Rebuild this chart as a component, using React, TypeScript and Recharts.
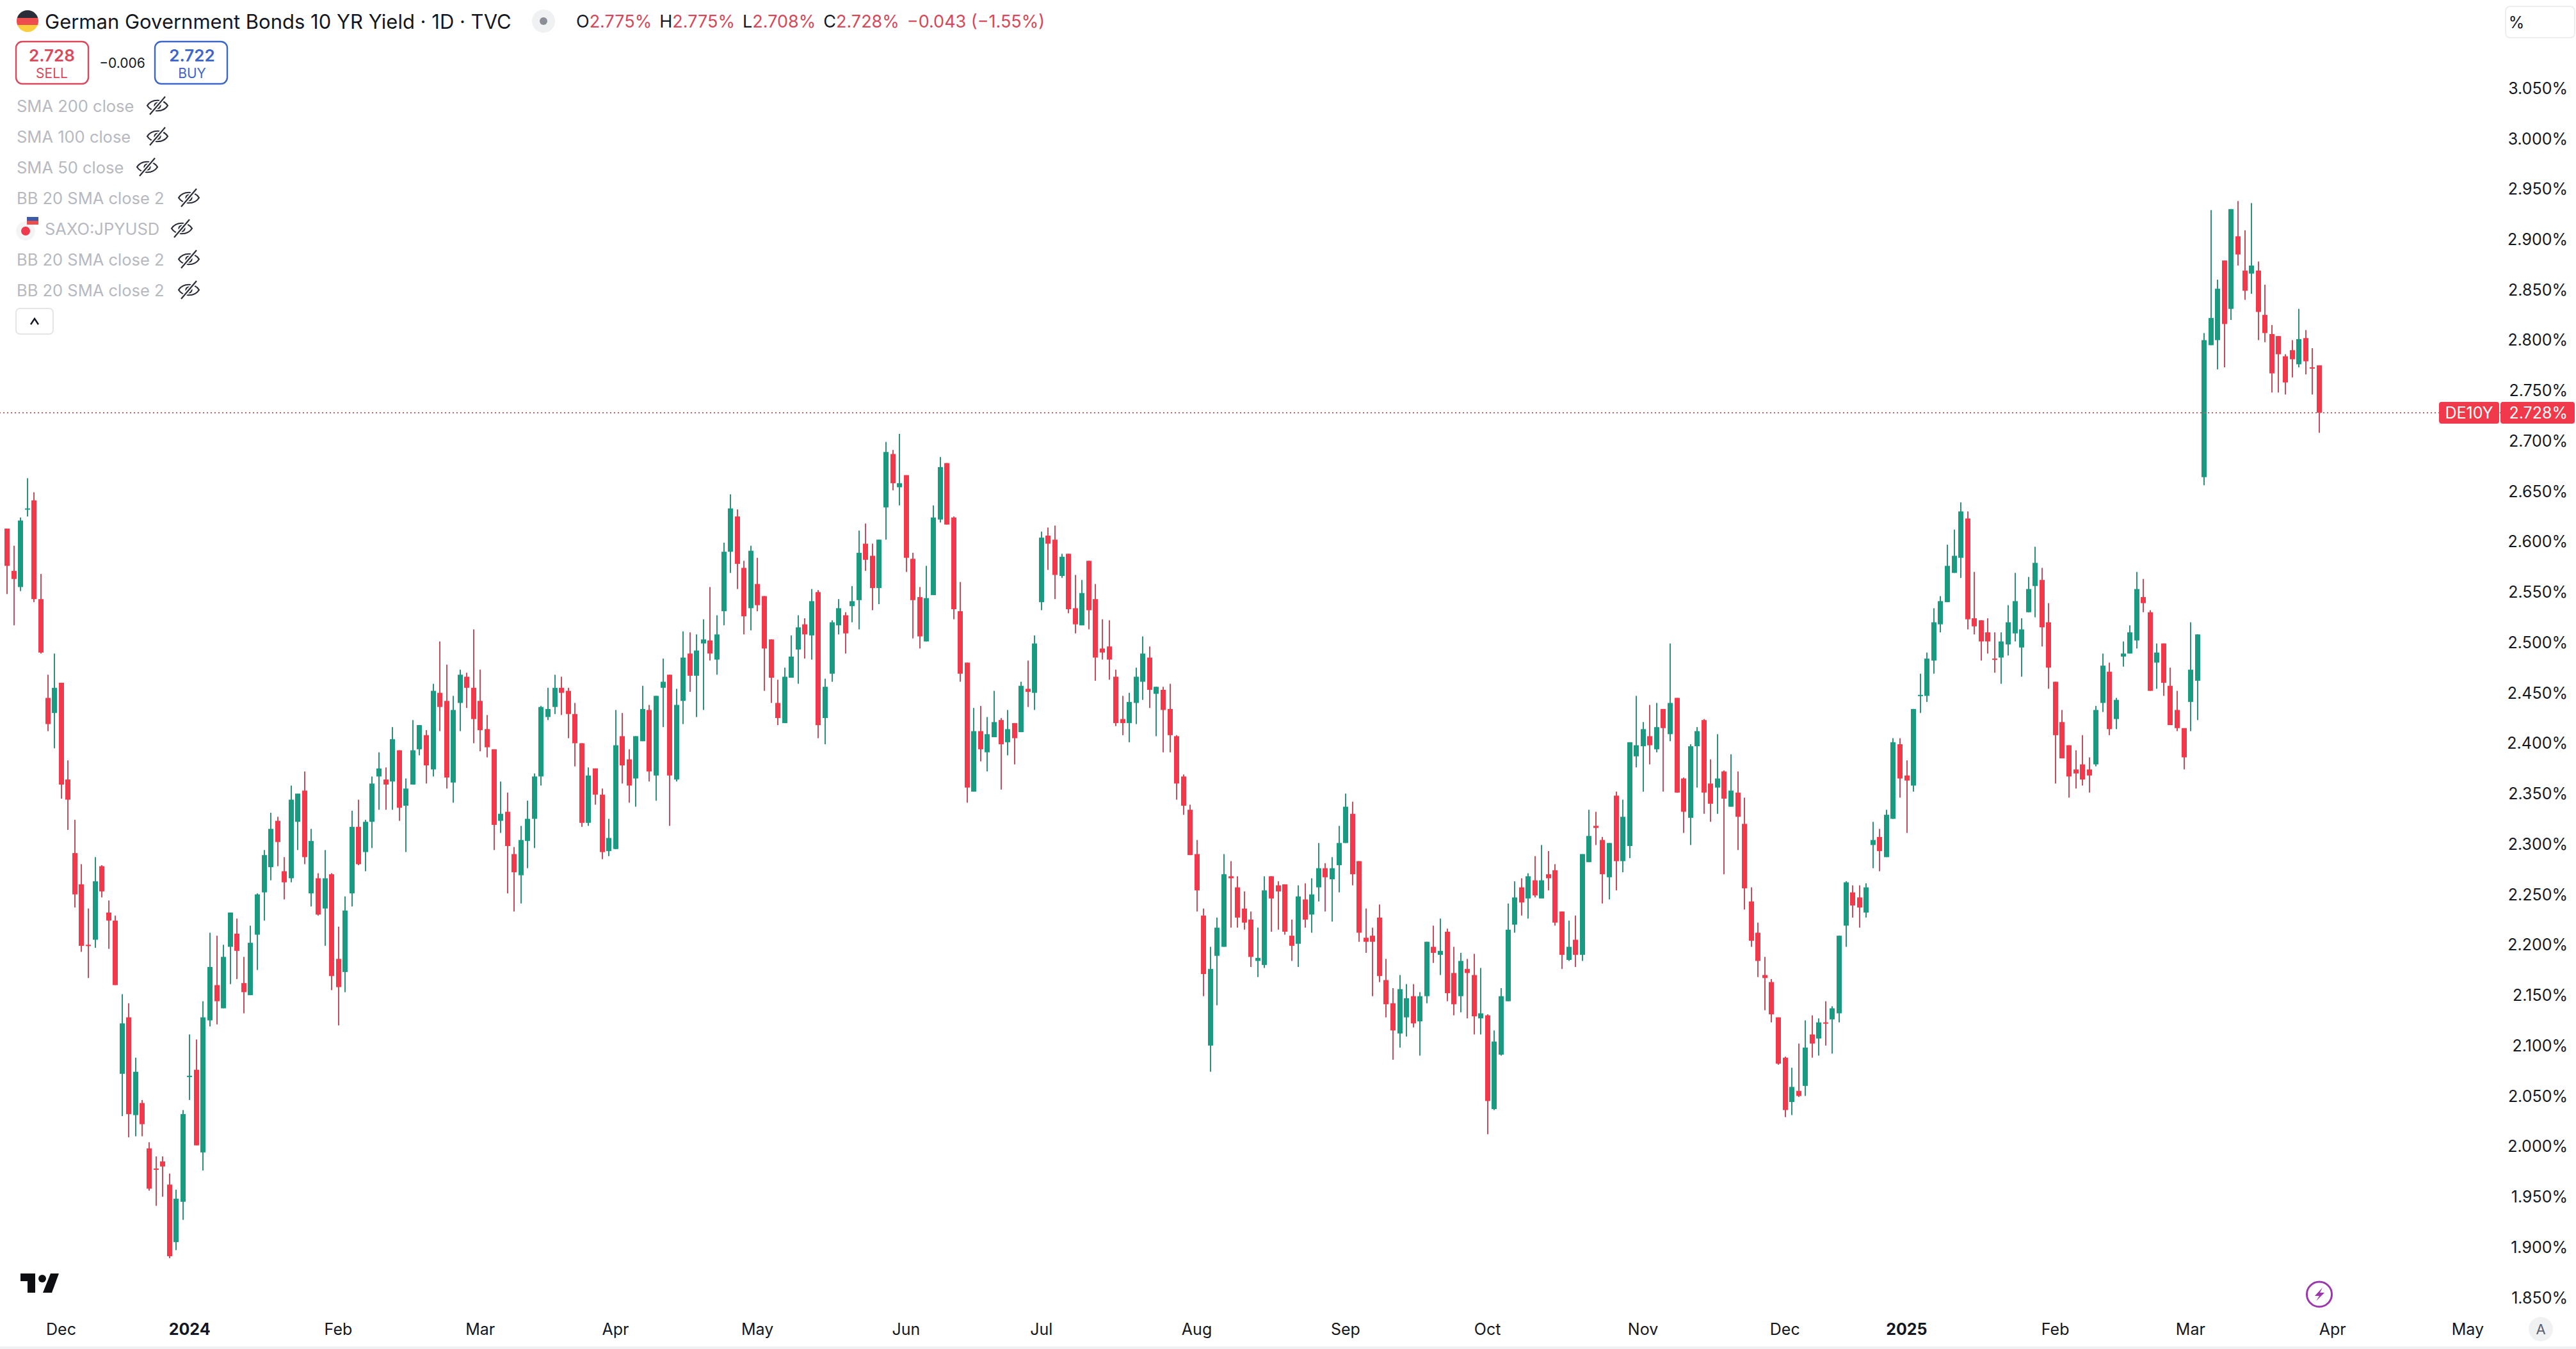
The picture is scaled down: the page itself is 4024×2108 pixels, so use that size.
import { Bar, ComposedChart, ReferenceLine, XAxis, YAxis } from 'recharts';

const highs = [
  2.613,2.596,2.624,2.663,2.649,2.568,2.468,2.489,2.460,2.383,
  2.324,2.280,2.236,2.287,2.279,2.244,2.229,2.151,2.142,2.088,
  2.046,2.004,1.990,1.990,1.973,1.957,2.036,2.111,2.106,2.144,
  2.212,2.209,2.200,2.232,2.226,2.188,2.219,2.251,2.294,2.331,
  2.327,2.287,2.358,2.350,2.372,2.315,2.271,2.294,2.271,2.218,
  2.248,2.333,2.344,2.324,2.367,2.391,2.376,2.416,2.393,2.365,
  2.423,2.418,2.413,2.459,2.501,2.478,2.447,2.473,2.470,2.513,
  2.473,2.428,2.394,2.362,2.351,2.297,2.318,2.343,2.370,2.437,
  2.455,2.468,2.466,2.455,2.440,2.400,2.376,2.375,2.355,2.325,
  2.433,2.430,2.394,2.407,2.457,2.438,2.447,2.484,2.468,2.454,
  2.511,2.510,2.508,2.523,2.555,2.527,2.599,2.647,2.632,2.581,
  2.596,2.584,2.546,2.503,2.463,2.475,2.507,2.527,2.524,2.553,
  2.552,2.464,2.522,2.543,2.530,2.556,2.611,2.618,2.598,2.602,
  2.699,2.691,2.707,2.666,2.589,2.555,2.576,2.636,2.684,2.678,
  2.625,2.560,2.480,2.435,2.437,2.426,2.452,2.425,2.433,2.420,
  2.461,2.482,2.507,2.610,2.614,2.616,2.588,2.588,2.567,2.562,
  2.581,2.558,2.523,2.522,2.473,2.447,2.450,2.475,2.506,2.496,
  2.456,2.456,2.459,2.408,2.369,2.339,2.304,2.236,2.198,2.227,
  2.290,2.283,2.268,2.253,2.233,2.217,2.268,2.268,2.263,2.260,
  2.225,2.259,2.261,2.266,2.301,2.281,2.287,2.318,2.350,2.342,
  2.283,2.236,2.217,2.240,2.186,2.157,2.170,2.161,2.161,2.153,
  2.203,2.219,2.226,2.216,2.198,2.192,2.186,2.191,2.177,2.131,
  2.115,2.157,2.241,2.263,2.266,2.271,2.288,2.299,2.293,2.280,
  2.233,2.224,2.229,2.290,2.334,2.332,2.307,2.301,2.352,2.344,
  2.401,2.447,2.421,2.438,2.440,2.434,2.499,2.445,2.366,2.399,
  2.416,2.424,2.384,2.409,2.373,2.389,2.372,2.346,2.257,2.222,
  2.188,2.166,2.128,2.089,2.078,2.102,2.125,2.130,2.127,2.144,
  2.139,2.209,2.263,2.259,2.259,2.261,2.322,2.315,2.334,2.405,
  2.405,2.383,2.434,2.469,2.490,2.534,2.546,2.597,2.612,2.639,
  2.630,2.570,2.522,2.524,2.510,2.510,2.537,2.569,2.524,2.565,
  2.595,2.574,2.539,2.461,2.433,2.398,2.393,2.408,2.386,2.437,
  2.489,2.480,2.445,2.501,2.517,2.570,2.563,2.532,2.499,2.499,
  2.475,2.452,2.415,2.520,2.508,2.807,2.929,2.860,2.879,2.930,
  2.938,2.909,2.936,2.878,2.855,2.815,2.804,2.786,2.800,2.831,
  2.810,2.792,2.775,
];

const lows = [
  2.548,2.517,2.551,2.625,2.540,2.489,2.412,2.395,2.345,2.314,
  2.237,2.193,2.167,2.197,2.247,2.196,2.160,2.030,2.009,2.010,
  2.010,1.956,1.941,1.950,1.889,1.897,1.927,2.046,2.001,1.976,
  2.119,2.121,2.137,2.161,2.166,2.132,2.150,2.175,2.224,2.264,
  2.278,2.245,2.262,2.294,2.280,2.238,2.229,2.199,2.155,2.120,
  2.153,2.238,2.279,2.273,2.296,2.334,2.334,2.334,2.323,2.292,
  2.359,2.388,2.360,2.367,2.412,2.355,2.341,2.412,2.435,2.400,
  2.392,2.386,2.294,2.311,2.251,2.233,2.241,2.276,2.296,2.358,
  2.423,2.429,2.428,2.405,2.377,2.317,2.318,2.339,2.285,2.288,
  2.295,2.360,2.341,2.337,2.402,2.362,2.343,2.416,2.318,2.362,
  2.419,2.451,2.426,2.433,2.482,2.468,2.517,2.569,2.553,2.508,
  2.512,2.531,2.452,2.440,2.418,2.420,2.465,2.459,2.484,2.483,
  2.405,2.399,2.461,2.508,2.489,2.520,2.513,2.571,2.532,2.538,
  2.602,2.651,2.636,2.570,2.504,2.494,2.501,2.547,2.619,2.617,
  2.523,2.461,2.341,2.352,2.382,2.372,2.406,2.354,2.388,2.379,
  2.411,2.436,2.433,2.532,2.572,2.543,2.564,2.529,2.509,2.517,
  2.513,2.462,2.483,2.463,2.417,2.408,2.401,2.419,2.443,2.435,
  2.407,2.391,2.391,2.344,2.329,2.289,2.233,2.149,2.074,2.140,
  2.198,2.217,2.217,2.215,2.178,2.168,2.177,2.213,2.215,2.210,
  2.184,2.178,2.217,2.212,2.243,2.233,2.223,2.252,2.301,2.259,
  2.203,2.192,2.149,2.163,2.128,2.086,2.098,2.109,2.118,2.090,
  2.142,2.182,2.170,2.144,2.130,2.133,2.127,2.111,2.111,2.012,
  2.036,2.090,2.144,2.212,2.229,2.226,2.247,2.246,2.254,2.219,
  2.176,2.184,2.178,2.184,2.282,2.299,2.241,2.245,2.254,2.272,
  2.286,2.376,2.352,2.379,2.391,2.352,2.402,2.351,2.311,2.299,
  2.356,2.330,2.322,2.330,2.270,2.337,2.294,2.235,2.198,2.168,
  2.135,2.123,2.081,2.029,2.031,2.049,2.050,2.088,2.090,2.100,
  2.092,2.123,2.198,2.227,2.217,2.227,2.276,2.273,2.287,2.325,
  2.346,2.311,2.352,2.430,2.441,2.469,2.510,2.540,2.569,2.564,
  2.513,2.508,2.482,2.489,2.470,2.459,2.487,2.501,2.466,2.530,
  2.525,2.496,2.454,2.360,2.385,2.346,2.355,2.358,2.351,2.377,
  2.431,2.408,2.414,2.476,2.489,2.494,2.530,2.452,2.454,2.447,
  2.418,2.412,2.374,2.412,2.423,2.656,2.795,2.771,2.773,2.820,
  2.874,2.840,2.846,2.800,2.798,2.748,2.748,2.746,2.763,2.773,
  2.766,2.746,2.708,
];

const opens = [
  2.613,2.571,2.555,2.632,2.641,2.543,2.445,2.430,2.460,2.364,
  2.291,2.260,2.200,2.205,2.278,2.232,2.224,2.072,2.128,2.031,
  2.043,1.998,1.978,1.985,1.962,1.905,1.945,2.069,2.076,1.994,
  2.125,2.160,2.137,2.198,2.211,2.162,2.150,2.210,2.252,2.277,
  2.323,2.273,2.266,2.322,2.353,2.251,2.266,2.236,2.270,2.186,
  2.173,2.251,2.317,2.292,2.322,2.367,2.364,2.362,2.393,2.338,
  2.359,2.394,2.408,2.374,2.450,2.442,2.361,2.440,2.466,2.455,
  2.442,2.414,2.394,2.323,2.332,2.290,2.269,2.303,2.325,2.367,
  2.426,2.436,2.455,2.452,2.429,2.400,2.321,2.375,2.349,2.293,
  2.295,2.407,2.384,2.365,2.402,2.433,2.368,2.455,2.468,2.364,
  2.442,2.489,2.467,2.499,2.502,2.483,2.531,2.590,2.625,2.574,
  2.534,2.558,2.546,2.503,2.440,2.420,2.465,2.493,2.518,2.507,
  2.550,2.425,2.469,2.517,2.527,2.536,2.542,2.598,2.586,2.554,
  2.634,2.687,2.654,2.666,2.583,2.545,2.501,2.547,2.622,2.678,
  2.624,2.531,2.480,2.352,2.412,2.391,2.406,2.423,2.401,2.420,
  2.411,2.454,2.450,2.540,2.606,2.602,2.566,2.588,2.534,2.517,
  2.581,2.543,2.494,2.496,2.466,2.424,2.420,2.440,2.461,2.485,
  2.449,2.453,2.434,2.407,2.367,2.334,2.290,2.229,2.100,2.189,
  2.198,2.268,2.257,2.236,2.225,2.184,2.180,2.268,2.259,2.260,
  2.209,2.201,2.245,2.230,2.257,2.276,2.265,2.279,2.301,2.330,
  2.283,2.207,2.209,2.227,2.165,2.142,2.112,2.128,2.149,2.124,
  2.149,2.198,2.190,2.213,2.172,2.149,2.176,2.170,2.127,2.130,
  2.037,2.091,2.144,2.220,2.257,2.246,2.264,2.246,2.270,2.274,
  2.233,2.185,2.205,2.190,2.282,2.318,2.304,2.267,2.348,2.283,
  2.298,2.387,2.397,2.407,2.394,2.434,2.409,2.445,2.365,2.326,
  2.397,2.423,2.360,2.356,2.372,2.337,2.351,2.320,2.243,2.212,
  2.170,2.163,2.128,2.088,2.044,2.055,2.060,2.111,2.107,2.123,
  2.126,2.132,2.219,2.252,2.247,2.232,2.299,2.307,2.287,2.325,
  2.399,2.368,2.358,2.447,2.447,2.482,2.518,2.540,2.569,2.584,
  2.623,2.524,2.522,2.510,2.484,2.485,2.498,2.509,2.495,2.530,
  2.556,2.562,2.520,2.461,2.421,2.398,2.374,2.379,2.374,2.379,
  2.440,2.471,2.424,2.486,2.489,2.502,2.545,2.530,2.480,2.499,
  2.457,2.433,2.415,2.441,2.462,2.664,2.795,2.800,2.879,2.831,
  2.903,2.869,2.866,2.869,2.825,2.806,2.804,2.784,2.790,2.776,
  2.802,2.773,2.775,
];

const closes = [
  2.576,2.563,2.621,2.633,2.543,2.490,2.419,2.455,2.359,2.344,
  2.250,2.199,2.199,2.263,2.253,2.224,2.160,2.122,2.032,2.074,
  2.022,1.958,1.977,1.980,1.891,1.948,2.032,2.070,2.001,2.128,
  2.178,2.144,2.188,2.232,2.194,2.153,2.202,2.250,2.289,2.315,
  2.302,2.262,2.344,2.350,2.287,2.303,2.230,2.266,2.169,2.158,
  2.234,2.317,2.280,2.322,2.360,2.375,2.359,2.404,2.336,2.355,
  2.393,2.418,2.378,2.452,2.436,2.366,2.433,2.468,2.455,2.424,
  2.413,2.396,2.319,2.330,2.298,2.272,2.304,2.325,2.367,2.436,
  2.434,2.455,2.450,2.429,2.400,2.321,2.368,2.349,2.292,2.306,
  2.398,2.378,2.358,2.407,2.434,2.372,2.447,2.461,2.368,2.438,
  2.485,2.467,2.492,2.503,2.489,2.508,2.590,2.633,2.578,2.526,
  2.591,2.537,2.494,2.465,2.425,2.466,2.486,2.515,2.508,2.541,
  2.418,2.456,2.520,2.534,2.509,2.541,2.589,2.582,2.554,2.602,
  2.689,2.658,2.658,2.584,2.542,2.506,2.544,2.624,2.674,2.617,
  2.533,2.469,2.356,2.412,2.394,2.409,2.421,2.399,2.414,2.405,
  2.457,2.451,2.499,2.604,2.598,2.567,2.585,2.533,2.518,2.549,
  2.532,2.485,2.490,2.483,2.420,2.420,2.441,2.466,2.489,2.453,
  2.456,2.433,2.408,2.360,2.338,2.289,2.254,2.171,2.176,2.217,
  2.270,2.266,2.227,2.222,2.188,2.187,2.254,2.246,2.253,2.213,
  2.199,2.248,2.225,2.250,2.276,2.267,2.276,2.301,2.337,2.270,
  2.212,2.203,2.203,2.169,2.141,2.115,2.156,2.147,2.122,2.149,
  2.203,2.192,2.194,2.152,2.141,2.184,2.172,2.129,2.132,2.045,
  2.104,2.149,2.215,2.247,2.242,2.268,2.249,2.264,2.266,2.222,
  2.190,2.198,2.190,2.290,2.308,2.316,2.270,2.301,2.283,2.327,
  2.401,2.398,2.414,2.398,2.416,2.415,2.440,2.351,2.332,2.397,
  2.412,2.351,2.340,2.365,2.345,2.353,2.327,2.256,2.204,2.184,
  2.167,2.131,2.082,2.036,2.059,2.050,2.098,2.102,2.123,2.122,
  2.137,2.209,2.262,2.239,2.237,2.257,2.304,2.293,2.329,2.401,
  2.365,2.363,2.434,2.448,2.484,2.520,2.541,2.576,2.586,2.630,
  2.523,2.516,2.501,2.501,2.483,2.501,2.520,2.541,2.513,2.553,
  2.579,2.515,2.475,2.408,2.385,2.367,2.370,2.364,2.368,2.433,
  2.477,2.414,2.443,2.489,2.510,2.553,2.539,2.452,2.490,2.460,
  2.418,2.415,2.386,2.473,2.508,2.800,2.822,2.851,2.816,2.930,
  2.885,2.849,2.874,2.828,2.807,2.767,2.786,2.758,2.781,2.801,
  2.779,2.772,2.728,
];

const priceTicks = [
  1.85,1.9,1.95,2,2.05,2.1,2.15,2.2,2.25,2.3,2.35,2.4,2.45,
  2.5,2.55,2.6,2.65,2.7,2.75,2.8,2.85,2.9,2.95,3,3.05,
];
const dateTickSlots = [8,27,49,70,90,111,133,153,176,198,219,242,263,281,303,323,344,364];
const dateTickLabels = ['Dec','2024','Feb','Mar','Apr','May','Jun','Jul','Aug','Sep','Oct','Nov','Dec','2025','Feb','Mar','Apr','May'];
const lastPrice = 2.728;

const indicatorRows = [
  { label: 'SMA 200 close', eyeX: 246 },
  { label: 'SMA 100 close', eyeX: 246 },
  { label: 'SMA 50 close', eyeX: 230 },
  { label: 'BB 20 SMA close 2', eyeX: 295 },
  { label: 'SAXO:JPYUSD', eyeX: 284 },
  { label: 'BB 20 SMA close 2', eyeX: 295 },
  { label: 'BB 20 SMA close 2', eyeX: 295 },
];

const ohlcParts = [
  { k: 'O', v: '2.775%' },
  { k: 'H', v: '2.775%' },
  { k: 'L', v: '2.708%' },
  { k: 'C', v: '2.728%' },
];

const SLOT_COUNT = 370;
const rows = Array.from({ length: SLOT_COUNT }, (_, i) =>
  i < highs.length
    ? { slot: i, range: [lows[i], highs[i]], open: opens[i], close: closes[i], high: highs[i], low: lows[i] }
    : { slot: i },
);

const GREEN = '#1b9a82';
const RED = '#f0394a';
const FONT = 'Inter, "Noto Sans", sans-serif';
const INK = '#131722';

const Candle = (props: any) => {
  const { x, y, width, height, payload } = props;
  if (payload.high === undefined) return null;
  const up = payload.close >= payload.open;
  const perUnit = height / (payload.high - payload.low);
  const top = y + (payload.high - Math.max(payload.open, payload.close)) * perUnit;
  const bottom = y + (payload.high - Math.min(payload.open, payload.close)) * perUnit;
  const cx = Math.round(x + width / 2);
  return (
    <g>
      <rect x={cx - 1} y={y} width={2} height={height} fill={up ? '#2f907f' : '#c5505d'} />
      <rect x={cx - 4} y={top} width={8} height={Math.max(bottom - top, 2)} fill={up ? GREEN : RED} />
    </g>
  );
};

const PriceTick = (props: any) => (
  <text x={4011} y={props.y} textAnchor="end" dominantBaseline="central" fontFamily={FONT} fontSize={25} fill={INK}>
    {props.payload.value.toFixed(3)}%
  </text>
);

const DateTick = (props: any) => {
  const label = dateTickLabels[dateTickSlots.indexOf(props.payload.value)];
  const isYear = label.length === 4;
  return (
    <text x={props.x} y={2077} textAnchor="middle" dominantBaseline="central" fontFamily={FONT} fontSize={25} fontWeight={isYear ? 700 : 400} fill={INK}>
      {label}
    </text>
  );
};

const LastPriceLabel = (props: any) => {
  const y = props.viewBox.y;
  return (
    <g fontFamily={FONT} fontSize={25} fill="#fff">
      <rect x={3810} y={y - 17} width={94} height={34} rx={4} fill={RED} />
      <rect x={3906} y={y - 17} width={116} height={34} rx={4} fill={RED} />
      <text x={3857} y={y} textAnchor="middle" dominantBaseline="central">DE10Y</text>
      <text x={4011} y={y} textAnchor="end" dominantBaseline="central">{lastPrice.toFixed(3)}%</text>
    </g>
  );
};

const Txt = ({ x, y, size = 26, color = INK, weight = 400, anchor = 'start', children }: any) => (
  <text x={x} y={y} fontFamily={FONT} fontSize={size} fill={color} fontWeight={weight} textAnchor={anchor} dominantBaseline="central">
    {children}
  </text>
);

const EyeOff = ({ x, y }: { x: number; y: number }) => (
  <g transform={`translate(${x} ${y})`} fill="none" stroke="#2a2e39" strokeWidth={2.2}>
    <path d="M-16 0 C-9 -11 9 -11 16 0 C9 11 -9 11 -16 0 Z" />
    <circle r={4.5} />
    <path d="M-12 14 L12 -14" stroke="#fff" strokeWidth={6} />
    <path d="M-12 14 L12 -14" />
  </g>
);

const Overlay = () => (
  <svg width={4024} height={2108} style={{ position: 'absolute', left: 0, top: 0, pointerEvents: 'none' }}>
    <defs>
      <clipPath id="deFlag"><circle cx={43} cy={33} r={17} /></clipPath>
      <clipPath id="jpFlag"><circle cx={40} cy={361} r={15} /></clipPath>
    </defs>
    <g clipPath="url(#deFlag)">
      <rect x={26} y={16} width={34} height={12} fill="#2a2e39" />
      <rect x={26} y={28} width={34} height={11} fill="#ee4d4d" />
      <rect x={26} y={39} width={34} height={11} fill="#f9cd3c" />
    </g>
    <Txt x={70} y={33} size={31}>German Government Bonds 10 YR Yield · 1D · TVC</Txt>
    <circle cx={849} cy={33} r={18} fill="#f0f1f3" />
    <circle cx={849} cy={33} r={6} fill="#8a8e97" />

    <text x={900} y={33} fontFamily={FONT} fontSize={27} dominantBaseline="central">
      {ohlcParts.map((p) => (
        <tspan key={p.k} dx={p.k === 'O' ? 0 : 12}>
          <tspan fill={INK}>{p.k}</tspan>
          <tspan fill="#d4485a">{p.v}</tspan>
        </tspan>
      ))}
      <tspan dx={12} fill="#d4485a">−0.043 (−1.55%)</tspan>
    </text>

    <rect x={25} y={65} width={113} height={66} rx={10} fill="#fff" stroke="#d84a5b" strokeWidth={2.4} />
    <Txt x={81} y={86} size={26} color="#d84a5b" weight={600} anchor="middle">2.728</Txt>
    <Txt x={81} y={114} size={21} color="#d84a5b" anchor="middle">SELL</Txt>
    <Txt x={191} y={98} size={21} anchor="middle">−0.006</Txt>
    <rect x={242} y={65} width={113} height={66} rx={10} fill="#fff" stroke="#3d66c8" strokeWidth={2.4} />
    <Txt x={300} y={86} size={26} color="#3d66c8" weight={600} anchor="middle">2.722</Txt>
    <Txt x={300} y={114} size={21} color="#3d66c8" anchor="middle">BUY</Txt>

    {indicatorRows.map((row, i) => (
      <g key={i}>
        <Txt x={row.label.startsWith('SAXO') ? 70 : 26} y={165 + i * 48} size={25.5} color="#b6b9c0">{row.label}</Txt>
        <EyeOff x={row.eyeX} y={165 + i * 48} />
      </g>
    ))}
    <g clipPath="url(#jpFlag)">
      <rect x={25} y={346} width={30} height={30} fill="#f4f4f6" />
      <circle cx={40} cy={361} r={7} fill="#ee3a4c" />
    </g>
    <rect x={42} y={339} width={18} height={6} fill="#3c5aa8" />
    <rect x={42} y={345} width={18} height={6} fill="#ee4d4d" />

    <rect x={25} y={482} width={58} height={40} rx={6} fill="#fff" stroke="#e4e5e8" strokeWidth={2} />
    <path d="M48 507 L54 498 L60 507" fill="none" stroke={INK} strokeWidth={2.4} />

    <rect x={3914} y={10} width={108} height={49} rx={7} fill="#fff" stroke="#eceef0" strokeWidth={2} />
    <Txt x={3931} y={35} size={25} anchor="middle">%</Txt>

    <path d="M32 1990 H55 V2020 H43 V2002 H32 Z" fill="#0c0e12" />
    <circle cx={66} cy={1998} r={6} fill="#0c0e12" />
    <path d="M79 1990 H92 L81 2020 H67 Z" fill="#0c0e12" />

    <circle cx={3623} cy={2022.5} r={19.5} fill="#fff" stroke="#9a37ab" strokeWidth={3} />
    <path d="M3628 2012 L3616 2025 H3623 L3618 2033 L3631 2020 H3624 Z" fill="#9a37ab" />

    <circle cx={3969} cy={2077} r={19} fill="#f0f1f3" />
    <Txt x={3969} y={2077} size={22} color="#5d606b" anchor="middle">A</Txt>

    <rect x={0} y={2104} width={4024} height={4} fill="#f0f1f3" />
  </svg>
);

export default function App() {
  return (
    <div style={{ position: 'absolute', left: 0, top: 0, width: 4024, height: 2108, background: '#fff', overflow: 'hidden' }}>
      <ComposedChart width={4024} height={2108} data={rows} margin={{ top: 0, right: 0, bottom: 0, left: 0 }} barCategoryGap={0}>
        <XAxis
          dataKey="slot"
          type="category"
          ticks={dateTickSlots}
          interval={0}
          height={56}
          padding={{ left: 5.72, right: 0 }}
          axisLine={false}
          tickLine={false}
          tick={<DateTick />}
        />
        <YAxis
          orientation="right"
          type="number"
          width={111.08}
          domain={[1.83447, 3.1375]}
          allowDataOverflow
          ticks={priceTicks}
          interval={0}
          axisLine={false}
          tickLine={false}
          tick={<PriceTick />}
        />
        <Bar dataKey="range" isAnimationActive={false} shape={<Candle />} />
        <ReferenceLine y={lastPrice} stroke="#b9626c" strokeWidth={2} strokeDasharray="2 4" label={<LastPriceLabel />} />
      </ComposedChart>
      <Overlay />
    </div>
  );
}
